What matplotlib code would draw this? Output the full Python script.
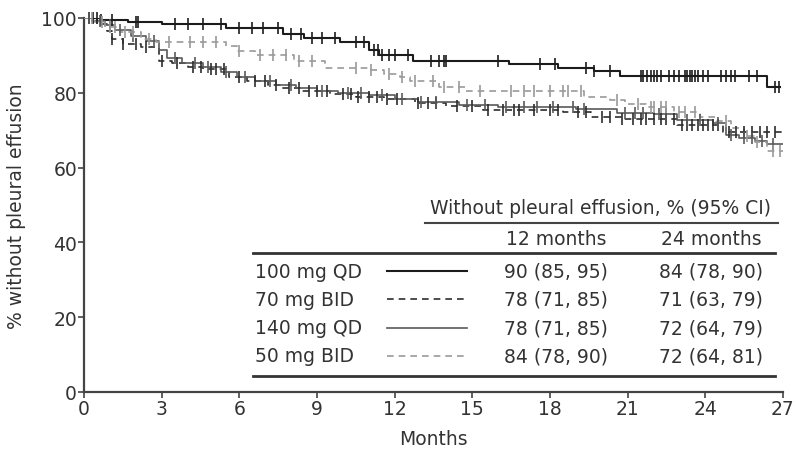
import numpy as np
import matplotlib
matplotlib.use("Agg")
import matplotlib.pyplot as plt
from matplotlib.lines import Line2D

plt.rcParams['font.family'] = ['DejaVu Sans']

# ---------------- data ----------------
qd100_t = [0, 0.6, 1.7, 3.0, 5.5, 7.7, 8.5, 9.9, 11.0, 11.4, 12.7, 16.4, 18.3, 19.7, 20.7, 26.4, 26.9]
qd100_s = [100, 99.4, 98.8, 98.4, 97.2, 95.8, 94.6, 93.5, 91.5, 90.2, 88.5, 87.6, 86.5, 85.7, 84.5, 81.5, 81.5]
qd100_c = [0.2, 0.35, 0.5, 0.65, 1.1, 2.0, 2.1, 3.5, 4.0, 4.6, 5.3, 6.0, 6.5, 6.9, 7.5, 8.0, 8.4,
           8.8, 9.2, 9.7, 10.5, 10.8, 11.2, 11.35, 11.5, 11.8, 12.0, 12.5, 13.4, 13.7, 13.9, 14.0,
           16.0, 17.6, 18.2, 19.4, 19.7, 20.3, 21.5, 21.6, 21.75, 21.9, 22.0, 22.15, 22.3, 22.6,
           22.8, 23.0, 23.2, 23.3, 23.4, 23.5, 23.6, 23.7, 23.9, 24.1, 24.6, 24.8, 25.0, 25.15,
           25.7, 26.0, 26.7, 26.85]

bid70_t = [0, 0.5, 0.9, 1.1, 1.5, 2.2, 2.9, 3.4, 4.0, 4.6, 5.6, 6.3, 7.1, 7.6, 8.4, 9.5, 10.5,
           11.6, 12.8, 14.0, 15.4, 18.5, 19.6, 20.8, 22.9, 24.7, 27.0]
bid70_s = [100, 98.5, 96.5, 94.5, 93.0, 92.3, 88.6, 88.0, 87.0, 86.4, 84.3, 83.2, 82.2, 81.3,
           80.4, 79.8, 79.0, 78.3, 77.3, 76.6, 75.4, 74.8, 73.5, 73.0, 71.3, 69.6, 69.6]
bid70_c = [1.1, 1.5, 2.0, 2.4, 3.0, 3.6, 4.2, 4.5, 4.9, 5.1, 5.4, 6.0, 6.6, 7.0, 7.4, 7.9, 8.3,
           8.7, 9.0, 9.4, 10.0, 10.3, 10.6, 11.0, 11.3, 11.7, 12.1, 12.9, 13.3, 13.6, 14.4, 15.0,
           15.6, 16.2, 16.6, 16.8, 17.4, 18.0, 18.3, 19.1, 19.4, 20.0, 20.3, 20.8, 21.2, 21.5,
           21.7, 22.0, 22.3, 22.5, 22.8, 23.1, 23.3, 23.5, 23.7, 23.9, 24.1, 24.3, 24.5, 24.9,
           25.2, 25.5, 25.8, 26.1, 26.4, 26.7]

qd140_t = [0, 0.3, 0.8, 1.2, 1.8, 2.4, 2.9, 3.2, 3.8, 4.6, 5.3, 5.9, 6.6, 7.4, 8.2, 9.0, 9.8,
           11.0, 12.0, 12.9, 14.5, 16.0, 19.0, 20.6, 22.0, 22.9, 24.3, 24.8, 25.3, 25.9, 26.4, 27.0]
qd140_s = [100, 99.3, 98.0, 96.8, 95.3, 93.8, 91.5, 89.2, 88.0, 87.0, 85.6, 84.3, 83.2, 82.0,
           81.2, 80.6, 80.0, 79.4, 78.3, 77.6, 76.8, 76.2, 75.6, 74.6, 74.2, 72.6, 72.0, 68.6,
           68.0, 67.0, 66.3, 66.3]
qd140_c = [0.2, 0.6, 1.0, 1.4, 1.9, 2.7, 3.5, 4.3, 4.8, 5.5, 6.2, 7.2, 8.0, 9.2, 10.2, 10.7,
           11.5, 12.3, 13.0, 13.6, 14.8, 15.5, 16.3, 17.0, 17.5, 18.1, 18.9, 19.3, 20.9, 21.3,
           21.6, 22.2, 22.5, 23.3, 23.8, 24.5, 25.0, 25.5, 25.8, 26.2, 26.6]

bid50_t = [0, 0.4, 0.8, 1.4, 2.2, 2.8, 5.5, 5.9, 6.6, 8.1, 9.3, 11.0, 11.6, 12.2, 12.6, 13.7,
           14.7, 19.3, 20.3, 20.9, 21.7, 22.8, 23.8, 24.4, 25.0, 25.5, 25.9, 26.4, 27.0]
bid50_s = [100, 99.0, 97.6, 96.3, 94.4, 93.7, 92.6, 91.2, 90.1, 88.6, 86.5, 86.0, 85.0, 84.1,
           83.1, 81.6, 80.4, 78.8, 78.2, 77.1, 76.2, 75.0, 73.6, 72.5, 70.5, 68.5, 66.8, 64.5, 64.5]
bid50_c = [0.3, 0.7, 1.0, 1.2, 1.6, 1.9, 2.5, 3.3, 4.1, 4.6, 5.1, 6.0, 6.8, 7.3, 7.8, 8.3, 8.8,
           10.5, 11.1, 11.8, 12.3, 12.8, 13.5, 13.9, 14.5, 15.3, 16.5, 17.0, 17.4, 18.0, 18.5,
           18.7, 19.2, 20.6, 21.4, 21.9, 22.0, 22.3, 22.5, 23.0, 23.2, 23.6, 24.8, 25.6, 26.0,
           26.6, 26.9]

groups = ["100 mg QD", "70 mg BID", "140 mg QD", "50 mg BID"]
m12 = ["90 (85, 95)", "78 (71, 85)", "78 (71, 85)", "84 (78, 90)"]
m24 = ["84 (78, 90)", "71 (63, 79)", "72 (64, 79)", "72 (64, 81)"]
xticks = [0, 3, 6, 9, 12, 15, 18, 21, 24, 27]
yticks = [0, 20, 40, 60, 80, 100]

# ---------------- figure ----------------
W, H = 796, 460
fig = plt.figure(figsize=(W / 100, H / 100), dpi=100)

def fx(px):
    return px / W

def fy(py):
    return 1 - py / H

ax = fig.add_axes([fx(84), fy(393), fx(783) - fx(84), fy(19) - fy(393)])
ax.set_xlim(0, 27)
ax.set_ylim(0, 100)

styles = [
    dict(color="#1c1c1c", lw=1.5, ls="-"),
    dict(color="#2e2e2e", lw=1.2, ls=(0, (4, 3))),
    dict(color="#5a5a5a", lw=1.2, ls="-"),
    dict(color="#9a9a9a", lw=1.2, ls=(0, (4, 3))),
]
series = [(qd100_t, qd100_s, qd100_c), (bid70_t, bid70_s, bid70_c),
          (qd140_t, qd140_s, qd140_c), (bid50_t, bid50_s, bid50_c)]

for (t, s, c), st in zip(series, styles):
    ax.step(t, s, where="post", color=st["color"], lw=st["lw"], ls=st["ls"], zorder=3)
    t_arr = np.asarray(t)
    s_arr = np.asarray(s)
    idx = np.searchsorted(t_arr, np.asarray(c), side="right") - 1
    ax.plot(c, s_arr[idx], ls="none", marker="|", ms=8, mew=1.2, color=st["color"],
            clip_on=False, zorder=4)

for side in ["top", "right"]:
    ax.spines[side].set_visible(False)
for side in ["left", "bottom"]:
    ax.spines[side].set_color("#444444")
    ax.spines[side].set_linewidth(1.6)

fs = 13.5
ax.set_xticks(xticks)
ax.set_yticks(yticks)
ax.tick_params(axis="both", direction="out", length=4, width=1.2, color="#444444",
               labelsize=fs, labelcolor="#333333", pad=1)
ax.set_xlabel("Months", fontsize=fs, color="#333333", labelpad=8)
ax.set_ylabel("% without pleural effusion", fontsize=fs, color="#333333", labelpad=11)

# ---------------- table ----------------
tc = "#333333"
fig.text(fx(600), fy(208), "Without pleural effusion, % (95% CI)", ha="center", va="center",
         fontsize=fs, color=tc)
fig.add_artist(Line2D([fx(425), fx(778)], [fy(224), fy(224)], color="#444444", lw=1.5))
fig.text(fx(556), fy(240), "12 months", ha="center", va="center", fontsize=fs, color=tc)
fig.text(fx(711), fy(240), "24 months", ha="center", va="center", fontsize=fs, color=tc)
fig.add_artist(Line2D([fx(253), fx(775)], [fy(254), fy(254)], color="#333333", lw=2))

row_y = [272, 300, 329, 357]
for i, g in enumerate(groups):
    y = row_y[i]
    fig.text(fx(255), fy(y), g, ha="left", va="center", fontsize=fs, color=tc)
    st = styles[i]
    fig.add_artist(Line2D([fx(387), fx(467)], [fy(y), fy(y)], color=st["color"],
                          lw=st["lw"], ls=st["ls"]))
    fig.text(fx(556), fy(y), m12[i], ha="center", va="center", fontsize=fs, color=tc)
    fig.text(fx(711), fy(y), m24[i], ha="center", va="center", fontsize=fs, color=tc)
fig.add_artist(Line2D([fx(253), fx(775)], [fy(377), fy(377)], color="#333333", lw=2))

fig.savefig("out.png", dpi=100)
